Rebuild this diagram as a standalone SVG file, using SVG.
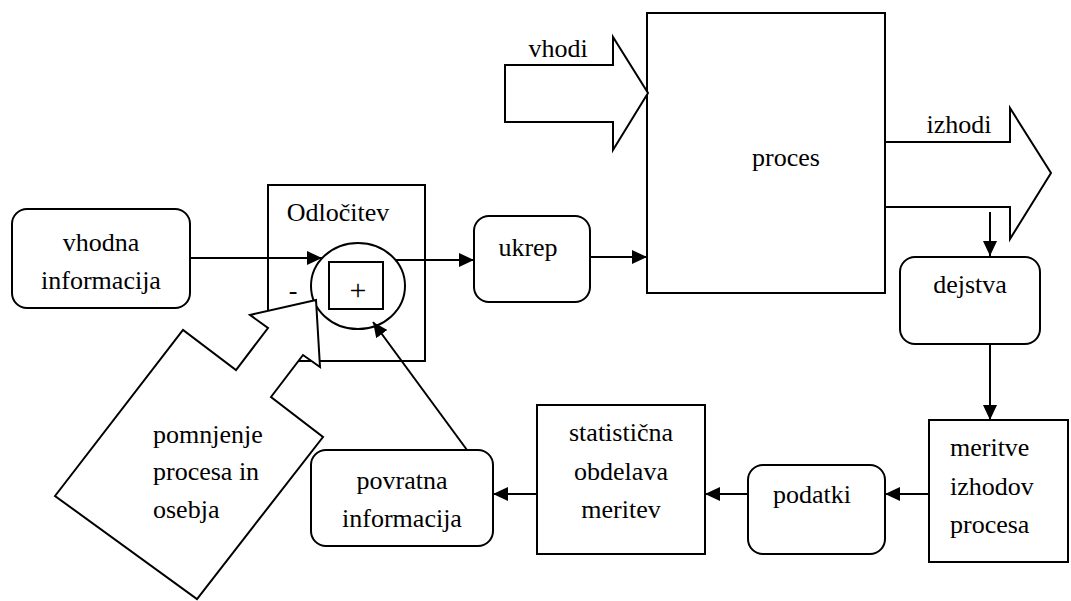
<svg xmlns="http://www.w3.org/2000/svg" width="1071" height="601" viewBox="0 0 1071 601">
  <style>
    .box { fill: #fff; stroke: #000; stroke-width: 2; }
    .ln { fill: none; stroke: #000; stroke-width: 2; }
    .t { font-family: "Times New Roman", Times, "Liberation Serif", "Noto Serif", "DejaVu Serif", serif; font-size: 26px; fill: #000; }
    .c { text-anchor: middle; }
  </style>
  <defs>
    <marker id="ah" markerUnits="userSpaceOnUse" markerWidth="16" markerHeight="14" refX="15" refY="7" orient="auto">
      <path d="M0,0 L15,7 L0,14 z" fill="#000"/>
    </marker>
  </defs>

  <rect width="1071" height="601" fill="#fff"/>

  <!-- input block -->
  <g id="vhodna">
    <rect class="box" x="12" y="209" width="178" height="99" rx="15"/>
    <text class="t c" x="101" y="251">vhodna</text>
    <text class="t c" x="101" y="289">informacija</text>
  </g>

  <!-- decision block with comparator -->
  <g id="odlocitev">
    <rect class="box" x="268" y="185" width="157" height="176"/>
    <text class="t c" x="338" y="221">Odločitev</text>
    <ellipse class="box" cx="358" cy="286" rx="47" ry="43"/>
    <rect class="box" x="329" y="262" width="54" height="47"/>
    <text class="t c" x="358" y="300" style="font-size:30px">+</text>
    <text class="t c" x="293" y="299">-</text>
  </g>

  <g id="ukrep">
    <rect class="box" x="474" y="216" width="116" height="86" rx="15"/>
    <text class="t c" x="528" y="256">ukrep</text>
  </g>

  <g id="proces">
    <rect class="box" x="647" y="13" width="238" height="280"/>
    <text class="t c" x="786" y="166">proces</text>
  </g>

  <g id="vhodi">
    <polygon class="box" points="505,65 613,65 613,37 648,93 613,150 613,122 505,122"/>
    <text class="t c" x="558" y="57">vhodi</text>
  </g>

  <g id="izhodi">
    <polyline class="ln" points="885,142 1010,142 1010,108 1051,173 1010,239 1010,207 885,207"/>
    <text class="t c" x="959" y="133">izhodi</text>
  </g>

  <g id="dejstva">
    <rect class="box" x="900" y="257" width="140" height="87" rx="15"/>
    <text class="t c" x="970" y="293">dejstva</text>
  </g>

  <g id="meritve">
    <rect class="box" x="929" y="420" width="139" height="142"/>
    <text class="t" x="950" y="456">meritve</text>
    <text class="t" x="950" y="495">izhodov</text>
    <text class="t" x="950" y="533">procesa</text>
  </g>

  <g id="podatki">
    <rect class="box" x="748" y="465" width="137" height="89" rx="15"/>
    <text class="t c" x="812" y="503">podatki</text>
  </g>

  <g id="statisticna">
    <rect class="box" x="537" y="405" width="168" height="149"/>
    <text class="t c" x="621" y="441">statistična</text>
    <text class="t c" x="621" y="480">obdelava</text>
    <text class="t c" x="621" y="518">meritev</text>
  </g>

  <g id="povratna">
    <rect class="box" x="311" y="450" width="182" height="96" rx="15"/>
    <text class="t c" x="402" y="489">povratna</text>
    <text class="t c" x="402" y="527">informacija</text>
  </g>

  <g id="connectors">
    <line class="ln" x1="190" y1="258" x2="322" y2="258" marker-end="url(#ah)"/>
    <line class="ln" x1="395" y1="260" x2="474" y2="260" marker-end="url(#ah)"/>
    <line class="ln" x1="590" y1="257" x2="647" y2="257" marker-end="url(#ah)"/>
    <line class="ln" x1="990" y1="212" x2="990" y2="256" marker-end="url(#ah)"/>
    <line class="ln" x1="990" y1="344" x2="990" y2="420" marker-end="url(#ah)"/>
    <line class="ln" x1="929" y1="494" x2="885" y2="494" marker-end="url(#ah)"/>
    <line class="ln" x1="748" y1="494" x2="705" y2="494" marker-end="url(#ah)"/>
    <line class="ln" x1="537" y1="494" x2="493" y2="494" marker-end="url(#ah)"/>
    <line class="ln" x1="467" y1="450" x2="373" y2="322" marker-end="url(#ah)"/>
  </g>

  <!-- tilted block arrow pointing into the comparator -->
  <g id="pomnjenje">
    <polygon class="box" points="55,496 183,330 236,370 268,328 250,315 316,300 320,367 303,355 271,397 323,437 197,599"/>
    <text class="t" x="153" y="443">pomnjenje</text>
    <text class="t" x="153" y="480">procesa in</text>
    <text class="t" x="153" y="518">osebja</text>
  </g>
</svg>
